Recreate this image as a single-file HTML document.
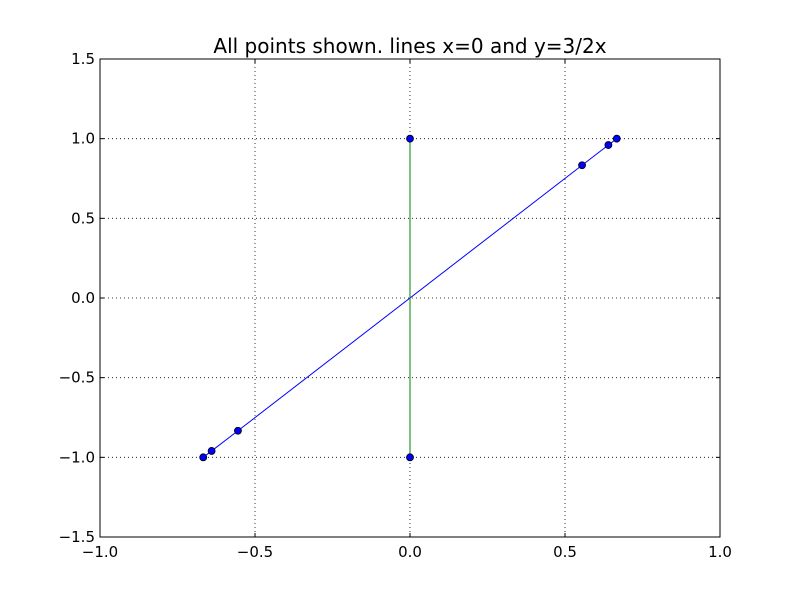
<!DOCTYPE html>
<html><head><meta charset="utf-8"><style>
body{margin:0;background:#fff;width:800px;height:597px;overflow:hidden}
svg text{font-family:"DejaVu Sans","Liberation Sans",sans-serif}
</style></head><body>
<svg id="chart" width="800" height="597" xmlns="http://www.w3.org/2000/svg">
<rect width="800" height="597" fill="#fff"/>
<text x="410" y="53" font-size="20" text-anchor="middle">All points shown. lines x=0 and y=3/2x</text>
<g id="grid"></g>
<g id="series"></g>
<rect x="100" y="59" width="620" height="478" fill="none" stroke="#000" stroke-width="1"/>
<g id="ticks"></g>
</svg>
<script>
const xTicks=[-1.0,-0.5,0.0,0.5,1.0];
const yTicks=[-1.5,-1.0,-0.5,0.0,0.5,1.0,1.5];
const blueX=[-0.667,-0.64,-0.555,0.555,0.64,0.667];
const blueY=[-1.0,-0.96,-0.833,0.833,0.96,1.0];
const greenX=[0,0];
const greenY=[-1.0,1.0];
const NS='http://www.w3.org/2000/svg';
const L=100,R=720,T=59,B=537;
function sx(v){return L+(v+1)/2*(R-L);}
function sy(v){return B-(v+1.5)/3*(B-T);}
function mk(tag,attrs,parent){const e=document.createElementNS(NS,tag);for(const k in attrs)e.setAttribute(k,attrs[k]);parent.appendChild(e);return e;}
const grid=document.getElementById('grid'),ticks=document.getElementById('ticks'),series=document.getElementById('series');
function fmt(v){return (v<0?'\u2212':'')+Math.abs(v).toFixed(1);}
xTicks.forEach(v=>{
  const x=sx(v);
  const g=mk('line',{x1:x,x2:x,y1:T,y2:B,stroke:'#000','stroke-dasharray':'1,3','stroke-width':0.8},grid);
  
  
  mk('line',{x1:x,x2:x,y1:B,y2:B-4,stroke:'#000'},ticks);
  mk('line',{x1:x,x2:x,y1:T,y2:T+4,stroke:'#000'},ticks);
  const t=mk('text',{x:x,y:B+20,'font-size':15,'text-anchor':'middle'},ticks);
  t.textContent=fmt(v);
  
  
});
yTicks.forEach(v=>{
  const y=sy(v);
  const g=mk('line',{x1:L,x2:R,y1:y,y2:y,stroke:'#000','stroke-dasharray':'1,3','stroke-width':0.8},grid);
  
  
  mk('line',{x1:L,x2:L+4,y1:y,y2:y,stroke:'#000'},ticks);
  mk('line',{x1:R,x2:R-4,y1:y,y2:y,stroke:'#000'},ticks);
  const t=mk('text',{x:L-5,y:y+5,'font-size':15,'text-anchor':'end'},ticks);
  t.textContent=fmt(v);
  
  
});
function drawSeries(xs,ys,color,name){
  const pts=xs.map((x,i)=>sx(x)+','+sy(ys[i])).join(' ');
  const pl=mk('polyline',{points:pts,fill:'none',stroke:color,'stroke-width':1},series);
  
  
  xs.forEach((x,i)=>{
    const c=mk('circle',{cx:sx(x),cy:sy(ys[i]),r:3.5,fill:'#0000ff',stroke:'#000','stroke-width':0.8},series);
    
    
  });
}
drawSeries(blueX,blueY,'#0000ff','blue-series');
drawSeries(greenX,greenY,'#008000','green-series');
</script>
</body></html>
